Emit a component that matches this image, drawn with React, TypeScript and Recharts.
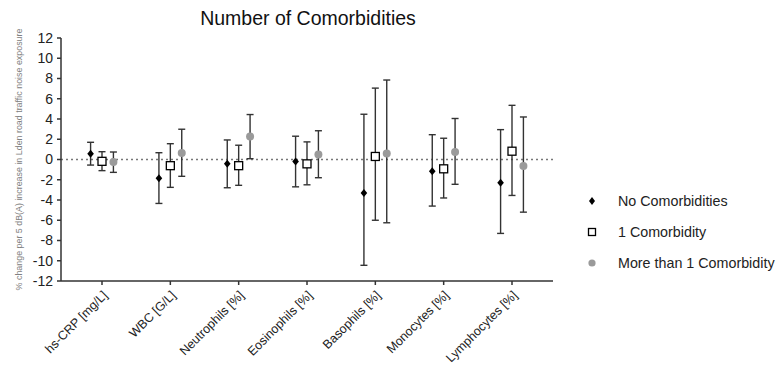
import { ScatterChart, Scatter, XAxis, YAxis, ErrorBar, ReferenceLine, Legend } from "recharts";

const markers = [
  "hs-CRP [mg/L]",
  "WBC [G/L]",
  "Neutrophils [%]",
  "Eosinophils [%]",
  "Basophils [%]",
  "Monocytes [%]",
  "Lymphocytes [%]",
];

// estimates with lower / upper 95% CI
const noneEst = [0.57, -1.86, -0.41, -0.2, -3.3, -1.15, -2.3];
const noneLow = [-0.55, -4.34, -2.79, -2.7, -10.45, -4.6, -7.3];
const noneHigh = [1.7, 0.67, 1.93, 2.3, 4.47, 2.45, 2.95];

const oneEst = [-0.18, -0.61, -0.61, -0.43, 0.3, -0.92, 0.82];
const oneLow = [-1.1, -2.75, -2.55, -2.5, -6.0, -3.8, -3.55];
const oneHigh = [0.77, 1.56, 1.41, 1.74, 7.05, 2.1, 5.35];

const moreEst = [-0.25, 0.64, 2.26, 0.5, 0.6, 0.74, -0.64];
const moreLow = [-1.27, -1.66, 0.08, -1.8, -6.25, -2.45, -5.2];
const moreHigh = [0.74, 2.99, 4.44, 2.84, 7.85, 4.05, 4.2];

const yTicks = [-12, -10, -8, -6, -4, -2, 0, 2, 4, 6, 8, 10, 12];

const FONT = "'Liberation Sans', Arial, sans-serif";
const BAR = "#333";

const build = (est: number[], low: number[], high: number[], shift: number) =>
  markers.map((_, i) => ({
    x: i + shift,
    y: est[i],
    err: [est[i] - low[i], high[i] - est[i]],
  }));

const noneData = build(noneEst, noneLow, noneHigh, -0.167);
const oneData = build(oneEst, oneLow, oneHigh, 0);
const moreData = build(moreEst, moreLow, moreHigh, 0.167);

const Diamond = ({ cx, cy }: any) => (
  <polygon
    points={`${cx},${cy - 4} ${cx + 3.3},${cy} ${cx},${cy + 4} ${cx - 3.3},${cy}`}
    fill="#000"
  />
);
const Square = ({ cx, cy }: any) => (
  <rect x={cx - 4} y={cy - 4} width={8} height={8} fill="#fff" stroke="#000" strokeWidth={1.3} />
);
const Dot = ({ cx, cy }: any) => <circle cx={cx} cy={cy} r={4} fill="#9a9a9a" />;

const XTick = ({ x, y, payload }: any) => (
  <text
    x={x + 3}
    y={y + 6}
    dy="0.35em"
    textAnchor="end"
    transform={`rotate(-45 ${x + 3} ${y + 6})`}
    fontSize={12.5}
    fontFamily={FONT}
    fill="#222"
  >
    {markers[payload.value]}
  </text>
);

const legendItems = [
  { label: "No Comorbidities", icon: <polygon points="7,3 10,7 7,11 4,7" fill="#000" /> },
  { label: "1 Comorbidity", icon: <rect x={3.5} y={3.5} width={7} height={7} fill="#fff" stroke="#000" strokeWidth={1.3} /> },
  { label: "More than 1 Comorbidity", icon: <circle cx={7} cy={7} r={3.6} fill="#9a9a9a" /> },
];

const LegendBox = () => (
  <div style={{ fontFamily: FONT, fontSize: 14.3, color: "#222" }}>
    {legendItems.map((it) => (
      <div key={it.label} style={{ display: "flex", alignItems: "center", height: 31 }}>
        <svg width={14} height={14} style={{ marginRight: 19 }}>
          {it.icon}
        </svg>
        <span>{it.label}</span>
      </div>
    ))}
  </div>
);

export default function App() {
  return (
    <div style={{ position: "absolute", left: 0, top: 0, width: 777, height: 365, background: "#fff" }}>
      <div
        style={{
          position: "absolute",
          left: 0,
          width: 616,
          top: 7,
          textAlign: "center",
          fontFamily: FONT,
          fontSize: 19.5,
          color: "#111",
        }}
      >
        Number of Comorbidities
      </div>
      <ScatterChart width={777} height={365} margin={{ top: 38, right: 224, bottom: 0, left: 0 }}>
        <XAxis
          type="number"
          dataKey="x"
          domain={[-0.6, 6.6]}
          ticks={[0, 1, 2, 3, 4, 5, 6]}
          interval={0}
          height={84}
          tickSize={4}
          tickMargin={2}
          tick={<XTick />}
          axisLine={{ stroke: "#333", strokeWidth: 1.5 }}
          tickLine={{ stroke: "#333", strokeWidth: 1.5 }}
        />
        <YAxis
          type="number"
          dataKey="y"
          domain={[-12, 12]}
          ticks={yTicks}
          interval={0}
          width={61}
          tickSize={4}
          tickMargin={4}
          tick={{ fontSize: 14, fontFamily: FONT, fill: "#222" }}
          axisLine={{ stroke: "#333", strokeWidth: 1.5 }}
          tickLine={{ stroke: "#333", strokeWidth: 1.5 }}
          label={{
            value: "% change per 5 dB(A) increase in Lden road traffic noise exposure",
            angle: -90,
            position: "insideLeft",
            offset: 19,
            style: { textAnchor: "middle", fontSize: 8.9, fontFamily: FONT, fill: "#808080" },
          }}
        />
        <ReferenceLine y={0} stroke="#777" strokeDasharray="2 3" strokeWidth={1.3} />
        <Legend
          layout="vertical"
          align="center"
          verticalAlign="middle"
          content={<LegendBox />}
          wrapperStyle={{ left: 585, top: 185, width: 190 }}
        />
        <Scatter name="No Comorbidities" data={noneData} shape={<Diamond />} isAnimationActive={false}>
          <ErrorBar dataKey="err" direction="y" width={3.5} stroke={BAR} strokeWidth={1.4} />
        </Scatter>
        <Scatter name="1 Comorbidity" data={oneData} shape={<Square />} isAnimationActive={false}>
          <ErrorBar dataKey="err" direction="y" width={3.5} stroke={BAR} strokeWidth={1.4} />
        </Scatter>
        <Scatter name="More than 1 Comorbidity" data={moreData} shape={<Dot />} isAnimationActive={false}>
          <ErrorBar dataKey="err" direction="y" width={3.5} stroke={BAR} strokeWidth={1.4} />
        </Scatter>
      </ScatterChart>
    </div>
  );
}
